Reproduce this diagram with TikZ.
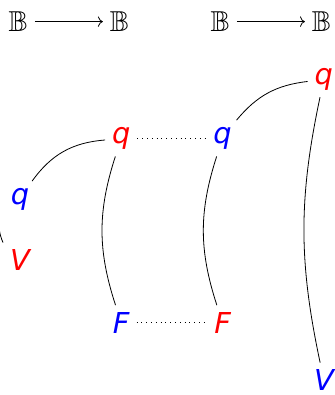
\documentclass[tikz,border=0pt]{standalone}
\usepackage{amsmath, amssymb}
\usepackage{fontspec}
\setsansfont{DejaVu Sans}
\usetikzlibrary{arrows.meta, positioning}

\begin{document}
\begin{tikzpicture}[
    node distance=1.07cm and 1.78cm, on grid,
    lbl/.style={font=\Large\sffamily\itshape},
    blu/.style={lbl, text=blue},
    rd/.style={lbl, text=red},
    typ/.style={font=\Large},
    lnk/.style={dotted},
]
  \useasboundingbox (0,0) rectangle (5.87,6.94);

  \node[typ] (b1) at (0.32,6.56) {$\mathbb{B}$};
  \node[typ, right=of b1] (b2) {$\mathbb{B}$};
  \node[typ] (b3) at (3.87,6.56) {$\mathbb{B}$};
  \node[typ, right=of b3] (b4) {$\mathbb{B}$};
  \draw[->] (b1) -- (b2);
  \draw[->] (b3) -- (b4);

  \node[blu] (qL) at (0.35,3.44) {q};
  \node[rd, below=of qL] (vL) {V};
  \node[rd, above right=of qL] (qA) {q};
  \node[blu, below=3.24cm of qA] (fA) {F};
  \node[blu, right=of qA] (qB) {q};
  \node[rd, right=of fA] (fB) {F};
  \node[rd, above right=1.04cm and 1.78cm of qB] (qC) {q};
  \node[blu, below=5.29cm of qC] (vC) {V};

  \draw (qL) to[bend left=25]  (qA);
  \draw[shorten <=5pt] (qL.south west) to[bend right=26] (vL.north west);
  \draw (qA) to[bend right=18] (fA);
  \draw (qB) to[bend right=18] (fB);
  \draw (qB) to[bend left=22]  (qC);
  \draw (qC) to[bend right=12] (vC);
  \draw[lnk] (qA) -- (qB);
  \draw[lnk] (fA) -- (fB);
\end{tikzpicture}
\end{document}
